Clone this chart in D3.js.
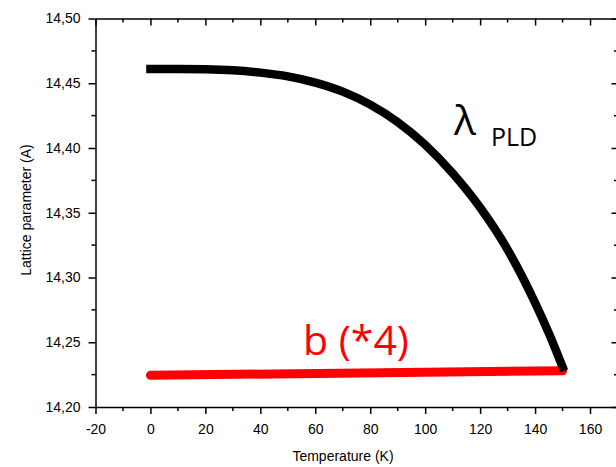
<!DOCTYPE html>
<html>
<head>
<meta charset="utf-8">
<script src="https://cdn.jsdelivr.net/npm/d3@7"></script>
<style>
  html, body { margin: 0; padding: 0; background: #fff; }
  svg { display: block; }
</style>
</head>
<body>
<svg id="chart" width="616" height="467"></svg>
<script>
// Temperature (K) of the λ_PLD curve
const tempLambda = [0, 10, 20, 30, 40, 50, 60, 70, 80, 90, 100, 110, 120, 130, 140, 145, 150];
// Lattice parameter λ_PLD (Å)
const lambdaPLD = [14.4610, 14.4610, 14.4608, 14.4600, 14.4582, 14.4553, 14.4505, 14.4435, 14.4335,
                   14.4200, 14.4025, 14.3805, 14.3540, 14.3215, 14.2805, 14.2570, 14.2310];
// b axis (*4)
const tempB = [0, 150];
const bTimes4 = [14.2245, 14.228];

const xTicks = [-20, 0, 20, 40, 60, 80, 100, 120, 140, 160];
const yTicks = [14.20, 14.25, 14.30, 14.35, 14.40, 14.45, 14.50];

const svg = d3.select("#chart");
const margin = { left: 95.5, right: 617.5, top: 18.5, bottom: 407 };

const x = d3.scaleLinear().domain([-20, 170]).range([margin.left, margin.right]);
const y = d3.scaleLinear().domain([14.20, 14.50]).range([margin.bottom, margin.top]);

const fmtX = v => String(v);
const fmtY = v => v.toFixed(2).replace(".", ",");
const font = "'Liberation Sans', Arial, sans-serif";

const xMinor = d3.range(-20, 171, 10).filter(v => !xTicks.includes(v));
const yMinor = d3.range(14.20, 14.501, 0.025).filter(v => !yTicks.some(t => Math.abs(t - v) < 1e-6));

function styleAxis(g) {
  g.selectAll("path, line").attr("stroke", "#000").attr("stroke-width", 1.5);
  g.selectAll("text").attr("font-family", font).attr("font-size", 14).attr("fill", "#000");
}
function minorTicks(g, vals, vertical, len) {
  g.selectAll(".minor").data(vals).enter().append("line").attr("class", "minor")
    .attr(vertical ? "y1" : "x1", d => vertical ? y(d) : x(d))
    .attr(vertical ? "y2" : "x2", d => vertical ? y(d) : x(d))
    .attr(vertical ? "x1" : "y1", 0).attr(vertical ? "x2" : "y2", len)
    .attr("stroke", "#000").attr("stroke-width", 1.5);
}

// bottom axis
const gB = svg.append("g").attr("transform", `translate(0,${margin.bottom})`)
  .call(d3.axisBottom(x).tickValues(xTicks).tickSize(7).tickSizeOuter(0).tickPadding(10).tickFormat(fmtX));
styleAxis(gB);
minorTicks(gB, xMinor, false, 4);

// top axis (ticks inward)
const gT = svg.append("g").attr("transform", `translate(0,${margin.top})`)
  .call(d3.axisTop(x).tickValues(xTicks).tickSize(-7).tickSizeOuter(0).tickFormat(""));
styleAxis(gT);
minorTicks(gT, xMinor, false, 4);

// left axis
const gL = svg.append("g").attr("transform", `translate(${margin.left},0)`)
  .call(d3.axisLeft(y).tickValues(yTicks).tickSize(7).tickSizeOuter(0).tickPadding(8).tickFormat(fmtY));
styleAxis(gL);
minorTicks(gL, yMinor, true, -4);

// right axis (ticks inward)
const gR = svg.append("g").attr("transform", `translate(${margin.right},0)`)
  .call(d3.axisRight(y).tickValues(yTicks).tickSize(-6).tickSizeOuter(0).tickFormat(""));
styleAxis(gR);
minorTicks(gR, yMinor, true, -3.5);

// axis titles
svg.append("text").attr("x", 343).attr("y", 461).attr("text-anchor", "middle")
  .attr("font-family", font).attr("font-size", 14).text("Temperature (K)");
svg.append("text").attr("transform", "translate(31,210) rotate(-90)").attr("text-anchor", "middle")
  .attr("font-family", font).attr("font-size", 14).text("Lattice parameter (A)");

// b (*4) line
const lineB = d3.line().x((d, i) => x(tempB[i])).y(d => y(d));
svg.append("path").datum(bTimes4).attr("d", lineB)
  .attr("fill", "none").attr("stroke", "#ff0000").attr("stroke-width", 9).attr("stroke-linecap", "round");

// λ_PLD curve
const lineL = d3.line().x((d, i) => x(tempLambda[i])).y(d => y(d)).curve(d3.curveMonotoneX);
svg.append("path").datum(lambdaPLD).attr("d", lineL)
  .attr("fill", "none").attr("stroke", "#000").attr("stroke-width", 8.5).attr("stroke-linecap", "square");

// annotations
const lab = svg.append("text").attr("x", 454).attr("y", 135).attr("font-family", "'Open Sans', sans-serif");
lab.append("tspan").attr("font-size", 41).text("λ");
lab.append("tspan").attr("font-size", 25).attr("dx", 15).attr("dy", 11).text("PLD");

svg.append("text").attr("x", 303).attr("y", 355).attr("font-family", "'Open Sans', sans-serif")
  .attr("font-size", 41).attr("fill", "#ff0000").text("b (*4)");
</script>
</body>
</html>
